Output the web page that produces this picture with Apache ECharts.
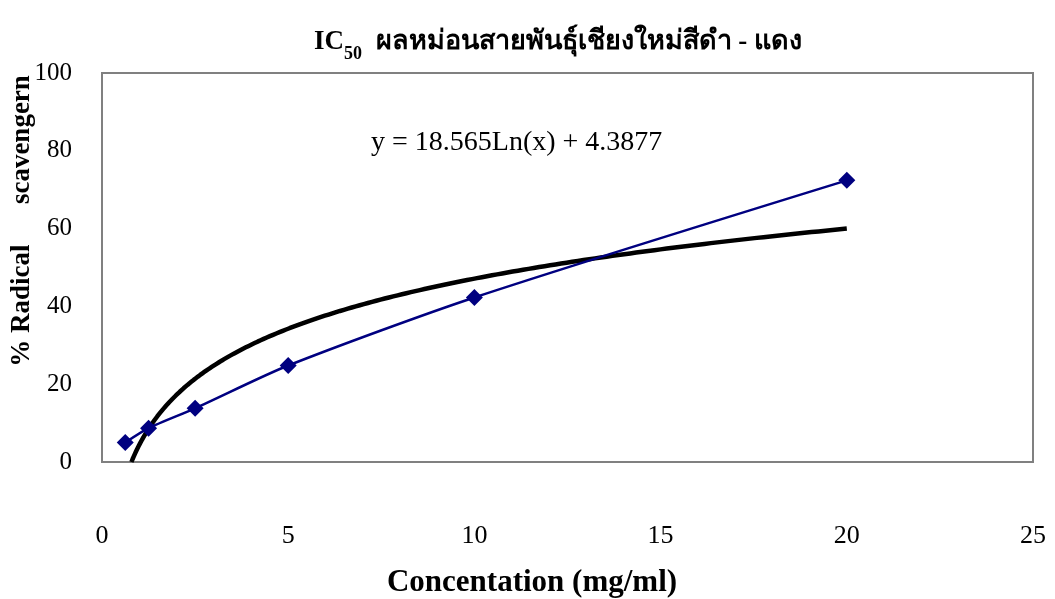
<!DOCTYPE html>
<html><head><meta charset="utf-8">
<script src="https://cdn.jsdelivr.net/npm/echarts@6/dist/echarts.min.js"></script>
<style>html,body{margin:0;padding:0;background:#fff}#c{width:1055px;height:599px}</style>
</head><body><div id="c"></div>
<script>
var concentrations = [0.625, 1.25, 2.5, 5, 10, 20];
var radicalScavenging = [5.0, 8.7, 13.8, 24.8, 42.3, 72.4];
var trendA = 18.565, trendB = 4.3877; // y = A*ln(x) + B (from the chart's equation)
var trendLabel = 'y = 18.565Ln(x) + 4.3877';
var xTicks = [0, 5, 10, 15, 20, 25];
var yTicks = [0, 20, 40, 60, 80, 100];
var yTitle = '% Radical      scavengern';
var xTitle = 'Concentation (mg/ml)';

var serif = '"Liberation Serif","Times New Roman","DejaVu Serif",serif';
var pts = concentrations.map(function(x,i){return [x, radicalScavenging[i]];});
var x0 = Math.exp(-trendB/trendA);
var trend = [];
for (var k=0;k<=200;k++){var x = x0 + (20-x0)*Math.pow(k/200,2); trend.push([x, trendA*Math.log(x)+trendB]);}

var chart = echarts.init(document.getElementById('c'));
chart.setOption({
  animation:false,
  backgroundColor:'#fff',
  title:{
    text:'{b|IC}{s|50}{b|  ผลหม่อนสายพันธุ์เชียงใหม่สีดำ - แดง}',
    left:553, top:17, textAlign:'center',
    textStyle:{rich:{
      b:{fontFamily:serif,fontWeight:'bold',fontSize:27,color:'#000',verticalAlign:'bottom',lineHeight:34},
      s:{fontFamily:serif,fontWeight:'bold',fontSize:18,color:'#000',verticalAlign:'bottom',lineHeight:26,padding:[0,0,-7,0]}
    }}
  },
  grid:{left:102,right:22,top:73,bottom:137,outerBoundsMode:'none',containLabel:false,
        show:true,borderColor:'#808080',borderWidth:2,backgroundColor:'#fff'},
  xAxis:{type:'value',min:0,max:25,interval:5,
    axisLine:{lineStyle:{color:'#808080',width:2}},axisTick:{show:false},splitLine:{show:false},
    axisLabel:{margin:61,fontFamily:serif,fontSize:26,color:'#000',formatter:function(v){return xTicks.indexOf(v)>=0?String(v):'';}}
  },
  yAxis:{type:'value',min:0,max:100,interval:20,
    axisLine:{lineStyle:{color:'#808080',width:2}},axisTick:{show:false},splitLine:{show:false},
    axisLabel:{margin:30,fontFamily:serif,fontSize:25,color:'#000',formatter:function(v){return yTicks.indexOf(v)>=0?String(v):'';}}
  },
  series:[
    {type:'line',data:trend,showSymbol:false,symbol:'none',smooth:false,
     lineStyle:{color:'#000',width:4.5},z:3},
    {type:'line',data:pts,smooth:0.25,symbol:'diamond',symbolSize:17,
     itemStyle:{color:'#000080'},lineStyle:{color:'#000080',width:2.5},z:4}
  ],
  graphic:[
    {type:'text',left:371,top:129,style:{text:trendLabel,font:'28px '+serif,fill:'#000'}},
    {type:'text',x:22,y:221,rotation:Math.PI/2,
     style:{text:yTitle,font:'bold 27px '+serif,fill:'#000',align:'center',verticalAlign:'middle'}},
    {type:'text',x:532,y:583,
     style:{text:xTitle,font:'bold 31px '+serif,fill:'#000',align:'center',verticalAlign:'middle'}}
  ]
});
</script></body></html>
